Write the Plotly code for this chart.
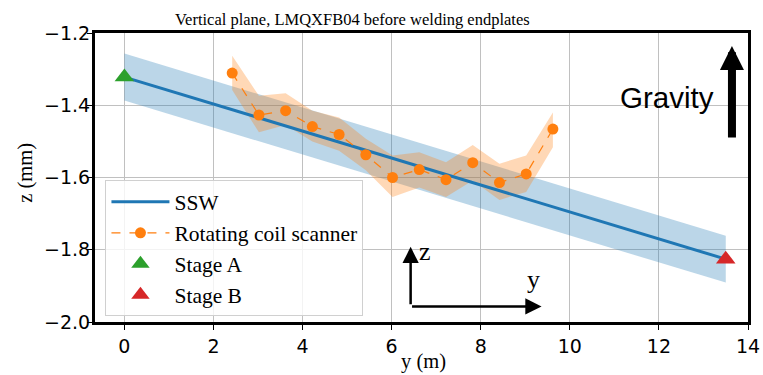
import plotly.graph_objects as go

# SSW straight-line fit between the two stages
ssw_y = [0.0, 13.5]
ssw_z = [-1.322, -1.826]
ssw_band = 0.065

# Rotating coil scanner measurements with uncertainty envelope
scan_y = [2.42, 3.02, 3.62, 4.22, 4.82, 5.42, 6.02, 6.62, 7.22, 7.82, 8.42, 9.02, 9.62]
scan_z = [-1.311, -1.427, -1.415, -1.459, -1.481, -1.537, -1.600, -1.578, -1.606,
          -1.559, -1.614, -1.590, -1.466]
scan_hi = [-1.263, -1.374, -1.367, -1.415, -1.434, -1.493, -1.539, -1.530, -1.558,
           -1.510, -1.562, -1.539, -1.420]
scan_lo = [-1.358, -1.475, -1.455, -1.500, -1.526, -1.580, -1.654, -1.628, -1.654,
           -1.608, -1.662, -1.640, -1.516]

stage_a = (0.0, -1.322)
stage_b = (13.5, -1.826)

x_ticks = [0, 2, 4, 6, 8, 10, 12, 14]
z_ticks = [-2.0, -1.8, -1.6, -1.4, -1.2]

BLUE = "#1f77b4"
ORANGE = "#ff7f0e"
GREEN = "#2ca02c"
RED = "#d62728"
SERIF = "Liberation Serif, Times New Roman, serif"
SANS = "DejaVu Sans, sans-serif"

fig = go.Figure()

# blue tolerance band around SSW
fig.add_trace(go.Scatter(
    x=ssw_y + ssw_y[::-1],
    y=[v + ssw_band for v in ssw_z] + [v - ssw_band for v in ssw_z[::-1]],
    fill="toself", fillcolor="rgba(31,119,180,0.3)", line=dict(width=0),
    mode="lines", showlegend=False, hoverinfo="skip"))

# orange envelope for the scanner
fig.add_trace(go.Scatter(
    x=scan_y + scan_y[::-1], y=scan_hi + scan_lo[::-1],
    fill="toself", fillcolor="rgba(255,127,14,0.3)", line=dict(width=0),
    mode="lines", showlegend=False, hoverinfo="skip"))

fig.add_trace(go.Scatter(
    x=ssw_y, y=ssw_z, mode="lines", name="SSW",
    line=dict(color=BLUE, width=3)))

fig.add_trace(go.Scatter(
    x=scan_y, y=scan_z, mode="lines+markers", name="Rotating coil scanner",
    line=dict(color=ORANGE, width=1.2, dash="dash"),
    marker=dict(color=ORANGE, size=11)))

fig.add_trace(go.Scatter(
    x=[stage_a[0]], y=[stage_a[1]], mode="markers", name="Stage A",
    marker=dict(symbol="triangle-up", color=GREEN, size=17)))

fig.add_trace(go.Scatter(
    x=[stage_b[0]], y=[stage_b[1]], mode="markers", name="Stage B",
    marker=dict(symbol="triangle-up", color=RED, size=17)))

annotations = [
    # title
    dict(text="Vertical plane, LMQXFB04 before welding endplates",
         xref="paper", yref="paper", x=0.395, y=1.0, xanchor="center",
         yanchor="bottom", yshift=2, showarrow=False,
         font=dict(family=SERIF, size=16.5, color="black")),
    # axis titles
    dict(text="y (m)", xref="paper", yref="paper", x=0.503, y=-0.135,
         xanchor="center", yanchor="middle", showarrow=False,
         font=dict(family=SERIF, size=20.5, color="black")),
    dict(text="z (mm)", xref="paper", yref="paper", x=-0.107, y=0.517,
         xanchor="center", yanchor="middle", showarrow=False, textangle=-90,
         font=dict(family=SERIF, size=20.5, color="black")),
    # gravity label and arrow
    dict(text="Gravity", x=12.19, y=-1.379, xref="x", yref="y",
         showarrow=False, font=dict(family="Liberation Sans, Arial, sans-serif",
                                    size=29.5, color="black")),
    dict(x=13.64, y=-1.236, xref="x", yref="y", ax=0, ay=93, text="",
         showarrow=True, arrowhead=2, arrowsize=0.6, arrowwidth=8,
         arrowcolor="black"),
    # coordinate system indicator
    dict(x=6.426, y=-1.792, xref="x", yref="y", ax=0, ay=59, text="",
         showarrow=True, arrowhead=2, arrowsize=1.3, arrowwidth=2.5,
         arrowcolor="black"),
    dict(x=9.365, y=-1.957, xref="x", yref="y", ax=-131, ay=0, text="",
         showarrow=True, arrowhead=2, arrowsize=1.3, arrowwidth=2.5,
         arrowcolor="black"),
    dict(text="z", x=6.74, y=-1.805, xref="x", yref="y", showarrow=False,
         font=dict(family=SERIF, size=26, color="black")),
    dict(text="y", x=9.19, y=-1.883, xref="x", yref="y", showarrow=False,
         font=dict(family=SERIF, size=26, color="black")),
]

axis_common = dict(
    showline=True, mirror=True, linecolor="black", linewidth=3,
    showgrid=True, gridcolor="#c0c0c0", gridwidth=1,
    ticks="outside", ticklen=5, tickwidth=1, tickcolor="black",
    tickfont=dict(family=SANS, size=19, color="black"),
    zeroline=False, automargin=False,
)

fig.update_layout(
    width=763, height=375,
    margin=dict(l=95, r=15, t=33, b=53),
    paper_bgcolor="white", plot_bgcolor="white",
    xaxis=dict(range=[-0.66, 14.0], tickvals=x_ticks, **axis_common),
    yaxis=dict(range=[-2.0, -1.2], tickvals=z_ticks, tickformat=".1f",
               ticklabelstandoff=-7, **axis_common),
    legend=dict(x=0.016, y=0.49, xanchor="left", yanchor="top",
                bgcolor="rgba(255,255,255,0.8)", bordercolor="#d0d0d0",
                borderwidth=1, font=dict(family=SERIF, size=21.5, color="black"),
                itemwidth=58),
    annotations=annotations,
    showlegend=True,
)

fig.write_html("out.html")
